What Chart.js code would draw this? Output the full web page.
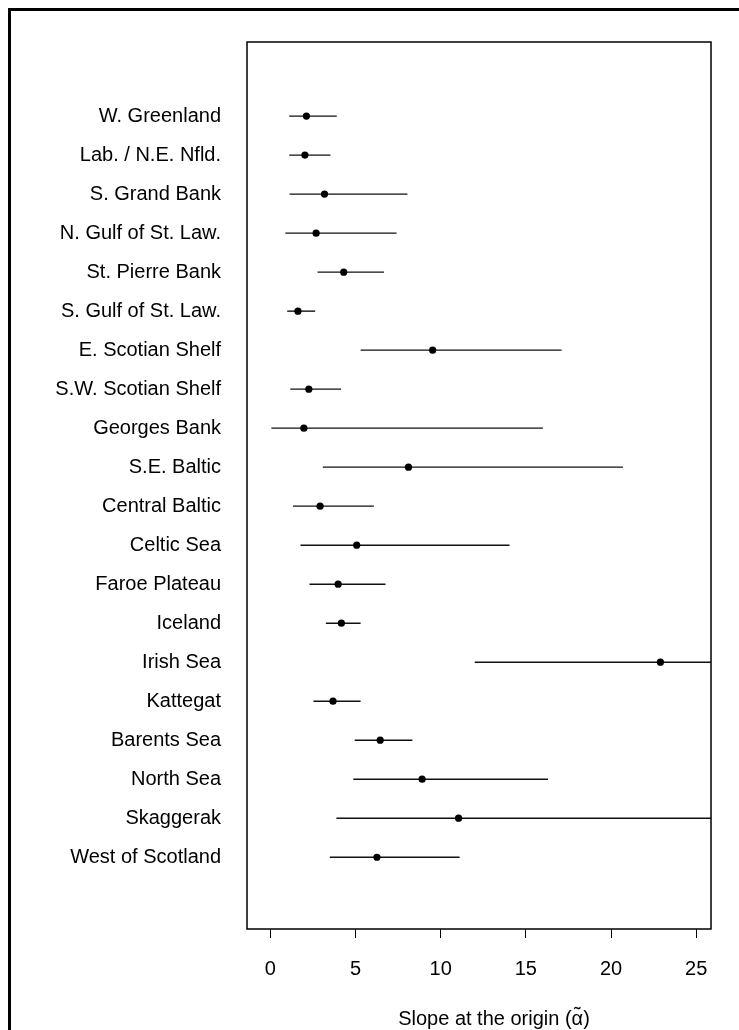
<!DOCTYPE html>
<html>
<head>
<meta charset="utf-8">
<script src="https://cdn.jsdelivr.net/npm/chart.js@4/dist/chart.umd.min.js"></script>
<style>
  html, body { margin: 0; padding: 0; background: #fff; overflow: hidden; }
  #wrap { position: relative; width: 739px; height: 1030px; }
  #frame {
    position: absolute; left: 8px; top: 8px; width: 800px; height: 1100px;
    border-left: 3px solid #000; border-top: 3px solid #000; pointer-events: none;
  }
  canvas { position: absolute; left: 0; top: 0; }
</style>
</head>
<body>
<div id="wrap">
  <canvas id="c" width="739" height="1030"></canvas>
  <div id="frame"></div>
</div>
<script>
// Stocks, top to bottom
const stocks = [
  "W. Greenland", "Lab. / N.E. Nfld.", "S. Grand Bank", "N. Gulf of St. Law.",
  "St. Pierre Bank", "S. Gulf of St. Law.", "E. Scotian Shelf", "S.W. Scotian Shelf",
  "Georges Bank", "S.E. Baltic", "Central Baltic", "Celtic Sea", "Faroe Plateau",
  "Iceland", "Irish Sea", "Kattegat", "Barents Sea", "North Sea", "Skaggerak",
  "West of Scotland"
];

// Slope at the origin: point estimate and interval bounds
const slopeEstimate = [2.12, 2.03, 3.18, 2.69, 4.31, 1.62, 9.53, 2.26, 1.97, 8.11,
                       2.92, 5.07, 3.98, 4.17, 22.9, 3.68, 6.45, 8.91, 11.05, 6.26];
const slopeLower    = [1.11, 1.11, 1.13, 0.88, 2.77, 0.99, 5.30, 1.17, 0.06, 3.08,
                       1.33, 1.77, 2.30, 3.26, 12.0, 2.53, 4.95, 4.87, 3.88, 3.49];
const slopeUpper    = [3.90, 3.53, 8.05, 7.41, 6.67, 2.63, 17.1, 4.15, 16.0, 20.7,
                       6.08, 14.04, 6.76, 5.30, 27.0, 5.30, 8.34, 16.3, 27.0, 11.11];

const xTickValues = [0, 5, 10, 15, 20, 25];
const xTitleParts = ["Slope at the origin (", "\u03B1", ")"];

const FONT = "Liberation Sans, Arial, Helvetica, sans-serif";

const points = stocks.map((s, i) => ({ x: slopeEstimate[i], y: i + 1 }));

// Interval segments, box outline and axis title
const intervalPlugin = {
  id: 'intervals',
  beforeDatasetsDraw(chart) {
    const { ctx, chartArea: a, scales: { x, y } } = chart;
    ctx.save();
    ctx.beginPath();
    ctx.rect(a.left, a.top, a.right - a.left, a.bottom - a.top);
    ctx.clip();
    ctx.strokeStyle = '#111';
    ctx.lineWidth = 1.4;
    stocks.forEach((s, i) => {
      const py = y.getPixelForValue(i + 1);
      ctx.beginPath();
      ctx.moveTo(x.getPixelForValue(slopeLower[i]), py);
      ctx.lineTo(x.getPixelForValue(slopeUpper[i]), py);
      ctx.stroke();
    });
    ctx.restore();
  },
  afterDraw(chart) {
    const { ctx, chartArea: a } = chart;
    ctx.save();
    ctx.strokeStyle = '#000';
    ctx.lineWidth = 1.5;
    ctx.strokeRect(a.left, a.top, a.right - a.left, a.bottom - a.top);

    // axis title, with a tilde set over the alpha
    ctx.fillStyle = '#000';
    ctx.font = '20px ' + FONT;
    ctx.textAlign = 'left';
    ctx.textBaseline = 'alphabetic';
    const full = xTitleParts.join('');
    const w = ctx.measureText(full).width;
    let cx = 494 - w / 2;
    const base = 1025;
    ctx.fillText(xTitleParts[0], cx, base);
    cx += ctx.measureText(xTitleParts[0]).width;
    const aw = ctx.measureText(xTitleParts[1]).width;
    ctx.fillText(xTitleParts[1], cx, base);
    ctx.textAlign = 'center';
    ctx.fillText('\u02DC', cx + aw / 2, base - 4);
    ctx.textAlign = 'left';
    ctx.fillText(xTitleParts[2], cx + aw, base);
    ctx.restore();
  }
};

new Chart(document.getElementById('c'), {
  type: 'scatter',
  data: {
    datasets: [{
      data: points,
      pointRadius: 3.6,
      pointBackgroundColor: '#000',
      pointBorderWidth: 0,
      showLine: false
    }]
  },
  options: {
    responsive: false,
    animation: false,
    devicePixelRatio: 1,
    layout: { padding: { top: 42, right: 28, left: 0, bottom: 0 } },
    plugins: { legend: { display: false }, tooltip: { enabled: false } },
    scales: {
      x: {
        type: 'linear',
        min: -1.37,
        max: 25.87,
        afterBuildTicks(scale) { scale.ticks = xTickValues.map(v => ({ value: v })); },
        afterFit(scale) { scale.height = 101; },
        grid: { drawOnChartArea: false, drawTicks: true, tickLength: 9, color: '#000', lineWidth: 1 },
        border: { display: false },
        ticks: { color: '#000', font: { family: FONT, size: 20 }, padding: 19, maxRotation: 0 }
      },
      y: {
        type: 'linear',
        reverse: true,
        min: -0.9,
        max: 21.84,
        afterBuildTicks(scale) { scale.ticks = stocks.map((s, i) => ({ value: i + 1 })); },
        afterFit(scale) { scale.width = 247; },
        grid: { display: false },
        border: { display: false },
        ticks: {
          autoSkip: false,
          color: '#000',
          font: { family: FONT, size: 20 },
          padding: 18,
          callback: (v) => stocks[v - 1]
        }
      }
    }
  },
  plugins: [intervalPlugin]
});
</script>
</body>
</html>
